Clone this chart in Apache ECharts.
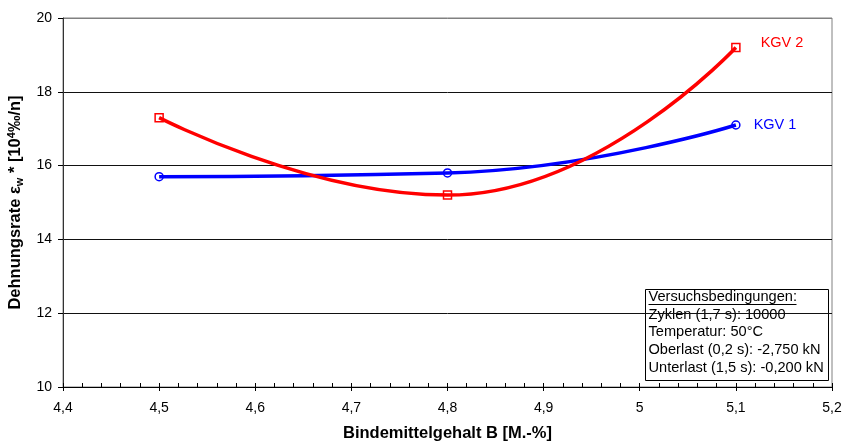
<!DOCTYPE html>
<html>
<head>
<meta charset="utf-8">
<script src="https://cdn.jsdelivr.net/npm/echarts@6/dist/echarts.min.js"></script>
<style>
html,body{margin:0;padding:0;background:#fff;}
#chart{width:842px;height:442px;}
</style>
</head>
<body>
<div id="chart"></div>
<script>
const xValues = [4.5, 4.8, 5.1];
const kgv1 = [15.7, 15.8, 17.1];
const kgv2 = [17.3, 15.2, 19.2];
const seriesNames = ['KGV 1', 'KGV 2'];
const infoTitle = 'Versuchsbedingungen:';
const infoLines = [
  'Zyklen (1,7 s): 10000',
  'Temperatur: 50°C',
  'Oberlast (0,2 s): -2,750 kN',
  'Unterlast (1,5 s): -0,200 kN'
];

const FONT = 'Liberation Sans, Arial, sans-serif';
const chart = echarts.init(document.getElementById('chart'), null, {renderer: 'canvas'});

function buildData(ys, labelCfg) {
  return xValues.map((x, i) => {
    const item = {value: [x, ys[i]]};
    if (i === xValues.length - 1) item.label = labelCfg;
    return item;
  });
}
function fmt(v) {
  return String(parseFloat(v.toFixed(2))).replace('.', ',');
}

const option = {
  animation: false,
  backgroundColor: '#fff',
  grid: {left: 63, right: 10, top: 18, bottom: 55, containLabel: false, outerBoundsMode: 'none',
    show: true, borderColor: '#808080', borderWidth: 1, backgroundColor: 'transparent'},
  xAxis: [{
    type: 'value', min: 4.4, max: 5.2, interval: 0.1,
    name: 'Bindemittelgehalt B [M.-%]', nameLocation: 'middle', nameGap: 38,
    nameTextStyle: {fontFamily: FONT, fontSize: 16.5, fontWeight: 'bold', color: '#000'},
    axisLine: {show: true, onZero: false, lineStyle: {color: '#000', width: 1}},
    axisTick: {show: true, length: 4, lineStyle: {color: '#000'}},
    axisLabel: {fontFamily: FONT, fontSize: 14, color: '#000', margin: 14, formatter: fmt},
    splitLine: {show: false}
  }, {
    type: 'value', min: 4.4, max: 5.2, interval: 0.02, position: 'bottom',
    axisLine: {show: false, onZero: false},
    axisTick: {show: true, inside: true, length: 4, lineStyle: {color: '#000'}},
    axisLabel: {show: false},
    splitLine: {show: false}
  }],
  yAxis: {
    type: 'value', min: 10, max: 20, interval: 2,
    name: 'Dehnungsrate ε{sub|w} * [10{sup|4}‰/n]', nameLocation: 'middle', nameGap: 38, nameRotate: 90,
    nameTextStyle: {fontFamily: FONT, fontSize: 16.5, fontWeight: 'bold', color: '#000',
      rich: {
        sub: {fontFamily: FONT, fontSize: 11, fontWeight: 'bold', color: '#000', padding: [8, 0, 0, 0]},
        sup: {fontFamily: FONT, fontSize: 11, fontWeight: 'bold', color: '#000', padding: [0, 0, 8, 0]}
      }},
    axisLine: {show: true, lineStyle: {color: '#333', width: 1}},
    axisTick: {show: true, length: 5, lineStyle: {color: '#000'}},
    axisLabel: {fontFamily: FONT, fontSize: 14, color: '#000', margin: 11},
    splitLine: {show: true, lineStyle: {color: ['#000', '#111', '#111', '#111', '#111', '#808080'], width: 1}}
  },
  series: [
    {
      name: seriesNames[0], type: 'line', smooth: 0.5,
      data: buildData(kgv1, {show: true, position: 'right', distance: 13, formatter: seriesNames[0],
        fontFamily: FONT, fontSize: 14.5, color: '#0000ff'}),
      symbol: 'circle', symbolSize: 8,
      lineStyle: {color: '#0000ff', width: 3.5},
      itemStyle: {color: 'rgba(255,255,255,0)', borderColor: '#0000ff', borderWidth: 1.5},
      label: {show: false},
      z: 3
    },
    {
      name: seriesNames[1], type: 'line', smooth: 0.5,
      data: buildData(kgv2, {show: true, position: 'right', distance: 20, offset: [0, -5], formatter: seriesNames[1],
        fontFamily: FONT, fontSize: 14.5, color: '#ff0000'}),
      symbol: 'rect', symbolSize: 8,
      lineStyle: {color: '#ff0000', width: 3.5},
      itemStyle: {color: 'rgba(255,255,255,0)', borderColor: '#ff0000', borderWidth: 1.5},
      label: {show: false},
      z: 4
    }
  ],
  graphic: [{
    type: 'group', left: 645, top: 289, z: 100,
    children: [
      {type: 'rect', shape: {x: 0, y: 0, width: 183, height: 91}, style: {fill: '#fff', stroke: '#000', lineWidth: 1}},
      {type: 'text', x: 3, y: 7.5, style: {text: infoTitle, fontFamily: FONT, fontSize: 14.6, fill: '#000', verticalAlign: 'middle'}},
      {type: 'line', shape: {x1: 3, y1: 15, x2: 151, y2: 15}, style: {stroke: '#000', lineWidth: 1}},
      ...infoLines.map((t, i) => ({type: 'text', x: 3, y: 25 + i * 17.7, style: {text: t, fontFamily: FONT, fontSize: 14.6, fill: '#000', verticalAlign: 'middle'}}))
    ]
  }]
};
chart.setOption(option);
</script>
</body>
</html>
